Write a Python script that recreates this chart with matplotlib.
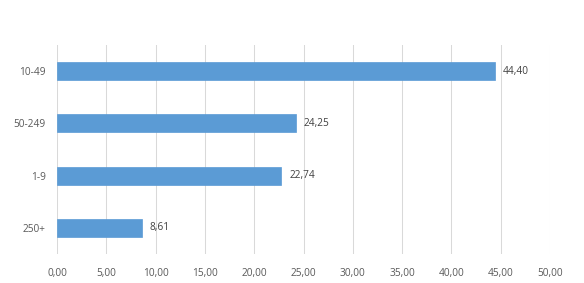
import matplotlib
matplotlib.use("Agg")
import matplotlib.pyplot as plt

categories = ["10-49", "50-249", "1-9", "250+"]
values = [44.40, 24.25, 22.74, 8.61]
xticks = [0, 5, 10, 15, 20, 25, 30, 35, 40, 45, 50]

plt.rcParams['font.family'] = ['Open Sans', 'DejaVu Sans']

fig = plt.figure(figsize=(5.84, 2.83), dpi=100)
ax = fig.add_axes([57/584, 1-254/283, (550-57)/584, (254-45)/283])

ypos = list(range(len(categories)))[::-1]
ax.barh(ypos, values, height=0.344, color="#5B9BD5", edgecolor="#5B9BD5", linewidth=0.5, zorder=3)
for y, v in zip(ypos, values):
    ax.text(v + 0.8, y, f"{v:.2f}".replace(".", ","), va="center", ha="left", fontsize=7.3, color="#404040")

ax.set_xlim(0, 50)
ax.set_ylim(-0.5, 3.5)
ax.set_xticks(xticks)
ax.set_xticklabels([f"{t:.2f}".replace(".", ",") for t in xticks], fontsize=7.3, color="#595959")
ax.set_yticks(ypos)
ax.set_yticklabels(categories, fontsize=7.3, color="#595959")
ax.tick_params(axis='y', length=0, pad=8)
ax.tick_params(axis='x', length=0, pad=10)
ax.grid(axis='x', color="#D9D9D9", linewidth=0.75, zorder=0)
for s in ax.spines.values():
    s.set_visible(False)

fig.savefig("out.png", dpi=100)
